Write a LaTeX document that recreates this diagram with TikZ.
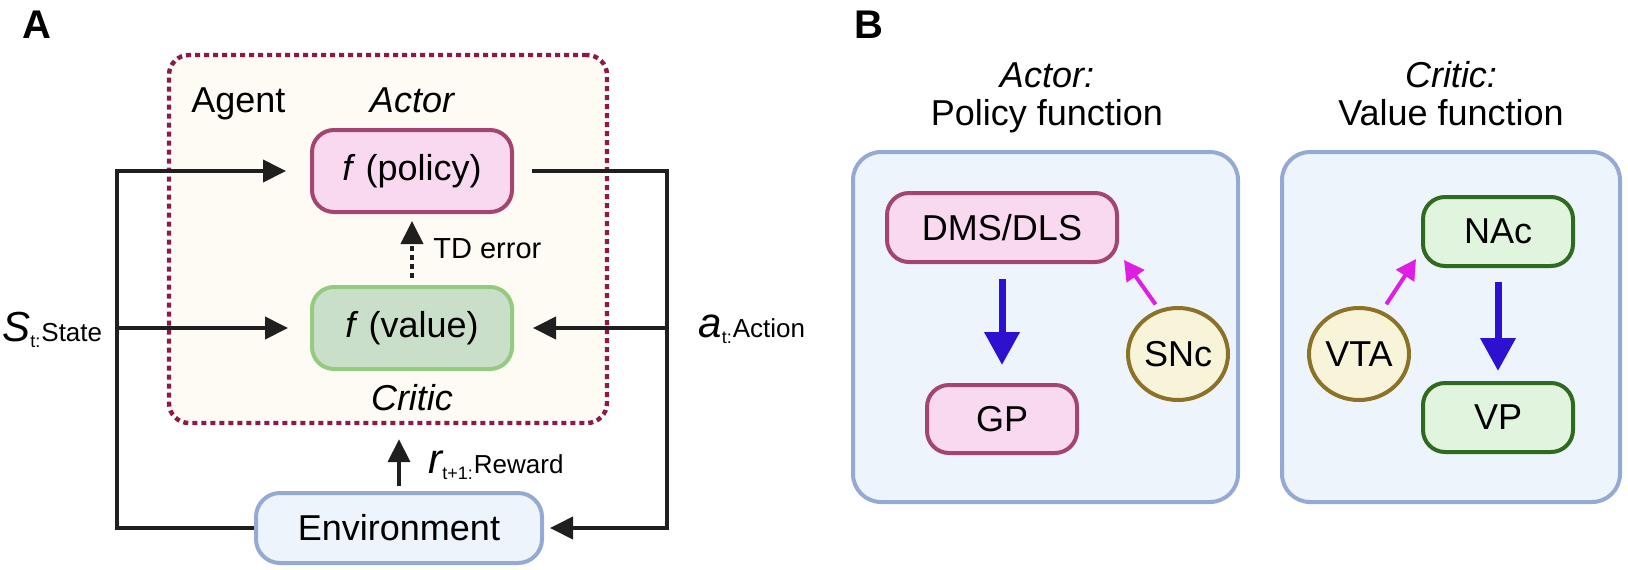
\documentclass[tikz,border=0pt]{standalone}
\usepackage{fontspec}
\setmainfont{Liberation Sans}
\usetikzlibrary{arrows.meta,shapes.geometric}

\definecolor{agentline}{HTML}{8B1A44}
\definecolor{agentfill}{HTML}{FEFBF4}
\definecolor{polfill}{HTML}{F8D9EF}
\definecolor{polline}{HTML}{A3456F}
\definecolor{valfill}{HTML}{CADFCA}
\definecolor{valline}{HTML}{95CB7E}
\definecolor{envfill}{HTML}{EDF4FC}
\definecolor{envline}{HTML}{94AAD5}
\definecolor{nacfill}{HTML}{E1F4DD}
\definecolor{nacline}{HTML}{2E6A1F}
\definecolor{ellfill}{HTML}{F7F4D9}
\definecolor{ellline}{HTML}{8C7226}
\definecolor{projblue}{HTML}{2E10D0}
\definecolor{dopamag}{HTML}{DE1EE3}

\begin{document}
\begin{tikzpicture}[x=0.5pt,y=-0.5pt,
        txt/.style={inner sep=0pt, font=\fontsize{18}{21}\selectfont},
        panel/.style={inner sep=0pt, font=\bfseries\fontsize{20}{24}\selectfont},
        box/.style={rectangle, rounded corners=11pt, line width=2pt, inner sep=0pt,
            font=\fontsize{18}{21}\selectfont},
        region/.style={rectangle, rounded corners=14pt, line width=2pt, draw=envline, fill=envfill},
        nucleus/.style={ellipse, draw=ellline, fill=ellfill, line width=2pt, inner sep=0pt,
            minimum width=50pt, minimum height=46pt, font=\fontsize{18}{21}\selectfont},
        wire/.style={line width=2pt, black!88},
        tip/.style={-{Triangle[length=11.5pt,width=11pt]}},
        project/.style={line width=3.5pt, projblue, -{Triangle[length=16.5pt,width=17pt]}},
        dopa/.style={line width=2pt, dopamag, -{Triangle[length=10pt,width=10.5pt]}}]
    \useasboundingbox (0,0) rectangle (1628,569);

    % A: actor-critic loop
    \node (labA) at (37,25) [panel] {A};
    \node (agent) at (388,239) [rectangle, draw=agentline, fill=agentfill, line width=2.2pt,
        dash pattern=on 2.5pt off 2pt, rounded corners=10pt,
        minimum width=219pt, minimum height=184pt] {};
    \node (agentlab) at (191,112) [anchor=base west, txt] {Agent};
    \node (actorlab) at (412,112) [anchor=base, txt] {\itshape Actor};
    \node (policy) at (412,171) [box, fill=polfill, draw=polline, minimum width=100pt, minimum height=41pt] {\textit{f} (policy)};
    \node (value) at (412,328) [box, fill=valfill, draw=valline, minimum width=100pt, minimum height=41pt] {\textit{f} (value)};
    \node (critlab) at (412,410) [anchor=base, txt] {\itshape Critic};
    \node (tdlab) at (433,249) [anchor=west, inner sep=0pt, font=\fontsize{14.5}{17}\selectfont] {TD error};
    \node (env) at (399,528) [box, fill=envfill, draw=envline, rounded corners=12pt, minimum width=143pt, minimum height=35pt] {Environment};

    \coordinate (ltop) at (117,171);
    \coordinate (rtop) at (667,171);
    \draw[wire, tip, shorten >=12pt] (env.west) -| (ltop) -- (policy.west);
    \draw[wire, tip, shorten >=11pt] (ltop |- value.west) -- (value.west);
    \draw[wire, tip, shorten <=9pt, shorten >=3pt] (policy.east) -- (rtop) |- (env.east);
    \draw[wire, tip, shorten >=9.5pt] (rtop |- value.east) -- (value.east);
    \draw[wire, tip, dash pattern=on 2.5pt off 2pt, shorten <=3.5pt, shorten >=3.5pt] (value.north) -- (policy.south);
    \draw[wire, tip, shorten <=2.5pt, shorten >=7pt] (env.north) -- (env.north |- agent.south);

    \node (slab) at (2,341) [anchor=base west, inner sep=0pt] {{\fontsize{21}{24}\selectfont\itshape S}\raisebox{-3pt}{\fontsize{9}{10}\selectfont t:}\hspace{0.5pt}{\fontsize{13}{15}\selectfont State}};
    \node (alab) at (698,337) [anchor=base west, inner sep=0pt] {{\fontsize{21}{24}\selectfont\itshape a}\raisebox{-3pt}{\fontsize{9}{10}\selectfont t:}\hspace{0.5pt}{\fontsize{13}{15}\selectfont Action}};
    \node (rlab) at (428,473) [anchor=base west, inner sep=0pt] {{\fontsize{21}{24}\selectfont\itshape r}\raisebox{-3pt}{\fontsize{9}{10}\selectfont t+1:}\hspace{0.5pt}{\fontsize{13}{15}\selectfont Reward}};

    % B: basal ganglia circuits
    \node (labB) at (869,25) [panel] {B};
    \node (acthead) at (1047,87) [anchor=base, txt] {\itshape Actor:};
    \node (polhead) at (1047,125) [anchor=base, txt] {Policy function};
    \node (crithead) at (1451,87) [anchor=base, txt] {\itshape Critic:};
    \node (valhead) at (1451,125) [anchor=base, txt] {Value function};
    \node (actbox) at (1045.5,327) [region, minimum width=192.5pt, minimum height=175pt] {};
    \node (critbox) at (1451,327) [region, minimum width=169pt, minimum height=175pt] {};

    \node (dms) at (1002,227.5) [box, fill=polfill, draw=polline, minimum width=115pt, minimum height=34.5pt] {DMS/DLS};
    \node (gp) at (1002,419) [box, fill=polfill, draw=polline, minimum width=75pt, minimum height=34pt] {GP};
    \node (snc) at (1178,354) [nucleus] {SNc};
    \node (nac) at (1498,231.5) [box, fill=nacfill, draw=nacline, minimum width=75pt, minimum height=34.5pt] {NAc};
    \node (vp) at (1498,417.5) [box, fill=nacfill, draw=nacline, minimum width=75pt, minimum height=34.5pt] {VP};
    \node (vta) at (1359,354) [nucleus] {VTA};

    \draw[project, shorten <=7.5pt, shorten >=9pt] (dms.south) -- (gp.north);
    \draw[project, shorten <=7pt, shorten >=5pt] (nac.south) -- (vp.north);
    \draw[dopa, shorten <=3pt] (snc.113) -- ([shift={(5,-4)}]dms.south east);
    \draw[dopa, shorten <=4pt] (vta.62) -- ([shift={(-5,-9)}]nac.south west);
\end{tikzpicture}
\end{document}
